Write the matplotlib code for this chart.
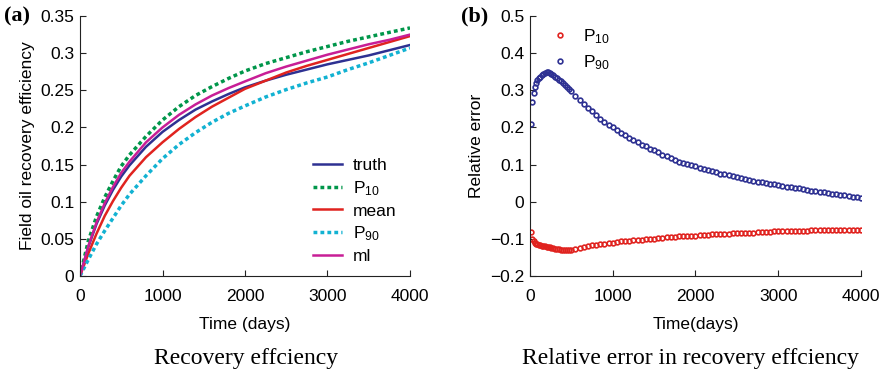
import matplotlib
matplotlib.use("Agg")
import matplotlib.pyplot as plt

plt.rcParams["font.family"] = ["Liberation Sans", "DejaVu Sans"]
plt.rcParams["mathtext.fontset"] = "custom"
plt.rcParams["mathtext.rm"] = "Liberation Sans"

# panel (a): recovery efficiency
t_a = [0, 100, 200, 300, 400, 500, 600, 800, 1000, 1200, 1400, 1600, 1800,
       2000, 2250, 2500, 2750, 3000, 3250, 3500, 3750, 4000]
truth = [0, 0.039, 0.070, 0.095, 0.116, 0.134, 0.149, 0.174, 0.194, 0.210, 0.224,
         0.235, 0.245, 0.254, 0.263, 0.271, 0.278, 0.285, 0.291, 0.297, 0.304, 0.311]
p10 = [0, 0.047, 0.080, 0.106, 0.128, 0.148, 0.163, 0.188, 0.210, 0.228, 0.243,
       0.255, 0.266, 0.276, 0.286, 0.294, 0.302, 0.309, 0.316, 0.322, 0.328, 0.334]
mean = [0, 0.030, 0.057, 0.081, 0.101, 0.119, 0.135, 0.160, 0.180, 0.198, 0.214,
        0.228, 0.240, 0.252, 0.263, 0.274, 0.283, 0.291, 0.299, 0.307, 0.315, 0.323]
p90 = [0, 0.022, 0.043, 0.061, 0.078, 0.095, 0.110, 0.135, 0.158, 0.177, 0.193,
       0.207, 0.219, 0.229, 0.241, 0.251, 0.260, 0.268, 0.278, 0.287, 0.297, 0.307]
ml = [0, 0.040, 0.072, 0.098, 0.120, 0.139, 0.154, 0.180, 0.200, 0.217, 0.231,
      0.243, 0.253, 0.262, 0.273, 0.282, 0.290, 0.298, 0.305, 0.312, 0.318, 0.325]

# panel (b): relative error
t_b = [15, 30, 45, 60, 75, 90, 105, 120, 140, 160, 180, 200, 220, 240, 260, 280,
       300, 325, 350, 375, 400, 425, 450, 475, 500,
       550, 600, 650, 700, 750, 800, 850, 900, 950, 1000, 1050, 1100, 1150, 1200,
       1250, 1300, 1350, 1400, 1450, 1500, 1550, 1600, 1650, 1700, 1750, 1800,
       1850, 1900, 1950, 2000, 2050, 2100, 2150, 2200, 2250, 2300, 2350, 2400,
       2450, 2500, 2550, 2600, 2650, 2700, 2750, 2800, 2850, 2900, 2950, 3000,
       3050, 3100, 3150, 3200, 3250, 3300, 3350, 3400, 3450, 3500, 3550, 3600,
       3650, 3700, 3750, 3800, 3850, 3900, 3950, 4000]
err_p90 = [0.209, 0.268, 0.294, 0.310, 0.320, 0.327, 0.333, 0.337, 0.341, 0.345,
           0.347, 0.348, 0.348, 0.346, 0.343, 0.340, 0.337, 0.333, 0.329, 0.325,
           0.320, 0.315, 0.310, 0.304, 0.297,
           0.286, 0.274, 0.263, 0.253, 0.243, 0.234, 0.224, 0.215, 0.207, 0.200,
           0.193, 0.186, 0.179, 0.172, 0.166, 0.160, 0.154, 0.149, 0.143, 0.138,
           0.133, 0.127, 0.122, 0.117, 0.112, 0.108, 0.105, 0.101, 0.098, 0.095,
           0.092, 0.088, 0.085, 0.082, 0.079, 0.076, 0.074, 0.071, 0.069, 0.066,
           0.063, 0.061, 0.059, 0.056, 0.054, 0.052, 0.050, 0.049, 0.047, 0.045,
           0.043, 0.041, 0.040, 0.038, 0.036, 0.034, 0.032, 0.030, 0.029, 0.027,
           0.025, 0.023, 0.021, 0.020, 0.018, 0.017, 0.015, 0.014, 0.012, 0.011]
err_p10 = [-0.082, -0.099, -0.107, -0.112, -0.114, -0.115, -0.116, -0.117, -0.118,
           -0.119, -0.120, -0.121, -0.122, -0.123, -0.124, -0.125, -0.126, -0.127,
           -0.128, -0.129, -0.130, -0.131, -0.130, -0.130, -0.129,
           -0.127, -0.125, -0.122, -0.120, -0.117, -0.116, -0.114, -0.113, -0.111,
           -0.110, -0.109, -0.107, -0.106, -0.105, -0.104, -0.103, -0.102, -0.101,
           -0.100, -0.099, -0.097, -0.097, -0.096, -0.095, -0.094, -0.093, -0.093,
           -0.092, -0.091, -0.091, -0.090, -0.089, -0.089, -0.088, -0.087, -0.087,
           -0.086, -0.086, -0.085, -0.085, -0.084, -0.084, -0.083, -0.083, -0.082,
           -0.082, -0.081, -0.081, -0.080, -0.080, -0.080, -0.079, -0.079, -0.079,
           -0.078, -0.078, -0.078, -0.077, -0.077, -0.077, -0.077, -0.076, -0.076,
           -0.076, -0.076, -0.075, -0.075, -0.075, -0.075, -0.075]

c_blue = "#2e3192"
c_green = "#00964a"
c_red = "#e0231f"
c_cyan = "#12b2d2"
c_mag = "#c81e96"

fs = 12.5

fig = plt.figure(figsize=(8.88, 3.73), dpi=100)
ax1 = fig.add_axes([0.0901, 0.260, 0.3716, 0.697])
ax2 = fig.add_axes([0.5968, 0.260, 0.3728, 0.697])


def style(ax):
    for s in ["top", "right"]:
        ax.spines[s].set_visible(False)
    for s in ["left", "bottom"]:
        ax.spines[s].set_color("#222222")
        ax.spines[s].set_linewidth(0.8)
    ax.tick_params(direction="in", length=4, width=0.8, labelsize=fs,
                   color="#222222")
    ax.tick_params(axis="x", pad=9)
    ax.tick_params(axis="y", pad=4)


ax1.plot(t_a, truth, color=c_blue, lw=1.8, label="truth")
ax1.plot(t_a, p10, color=c_green, lw=2.5, ls=(0, (1.1, 0.9)), label=r"$\mathregular{P_{10}}$")
ax1.plot(t_a, mean, color=c_red, lw=1.8, label="mean")
ax1.plot(t_a, p90, color=c_cyan, lw=2.5, ls=(0, (1.1, 0.9)), label=r"$\mathregular{P_{90}}$")
ax1.plot(t_a, ml, color=c_mag, lw=1.8, label="ml")
ax1.set_xlim(0, 4000)
ax1.set_ylim(0, 0.35)
ax1.set_xticks([0, 1000, 2000, 3000, 4000])
ax1.set_yticks([0, 0.05, 0.1, 0.15, 0.2, 0.25, 0.3, 0.35])
ax1.set_yticklabels(["0", "0.05", "0.1", "0.15", "0.2", "0.25", "0.3", "0.35"])
style(ax1)
ax1.set_xlabel("Time (days)", fontsize=fs, labelpad=10)
ax1.set_ylabel("Field oil recovery efficiency", fontsize=fs, labelpad=4)
ax1.legend(loc="lower right", frameon=False, fontsize=fs, handlelength=1.7,
           labelspacing=0.33, handletextpad=0.6, borderaxespad=0.0,
           bbox_to_anchor=(0.98, 0.02))

ax2.plot(t_b, err_p10, ls="none", marker="o", ms=3.4, mfc="none", mec=c_red,
         mew=1.2, label=r"$\mathregular{P_{10}}$")
ax2.plot(t_b, err_p90, ls="none", marker="o", ms=3.4, mfc="none", mec=c_blue,
         mew=1.2, label=r"$\mathregular{P_{90}}$")
ax2.set_xlim(0, 4000)
ax2.set_ylim(-0.2, 0.5)
ax2.set_xticks([0, 1000, 2000, 3000, 4000])
ax2.set_yticks([-0.2, -0.1, 0, 0.1, 0.2, 0.3, 0.4, 0.5])
ax2.set_yticklabels(["\u22120.2", "\u22120.1", "0", "0.1", "0.2", "0.3", "0.4", "0.5"])
style(ax2)
ax2.set_xlabel("Time(days)", fontsize=fs, labelpad=10)
ax2.set_ylabel("Relative error", fontsize=fs, labelpad=4)
ax2.legend(loc="upper left", frameon=False, fontsize=fs, numpoints=1,
           handlelength=1.0, labelspacing=0.45, handletextpad=0.8,
           borderaxespad=0.0, bbox_to_anchor=(0.045, 0.985))

fig.text(0.004, 0.955, "(a)", fontsize=16, fontweight="bold",
         family="Liberation Serif", va="center")
fig.text(0.519, 0.955, "(b)", fontsize=16, fontweight="bold",
         family="Liberation Serif", va="center")
fig.text(0.277, 0.04, "Recovery effciency", fontsize=17,
         family="Liberation Serif", ha="center", va="center")
fig.text(0.778, 0.04, "Relative error in recovery effciency", fontsize=17,
         family="Liberation Serif", ha="center", va="center")

fig.savefig("out.png", dpi=100)
